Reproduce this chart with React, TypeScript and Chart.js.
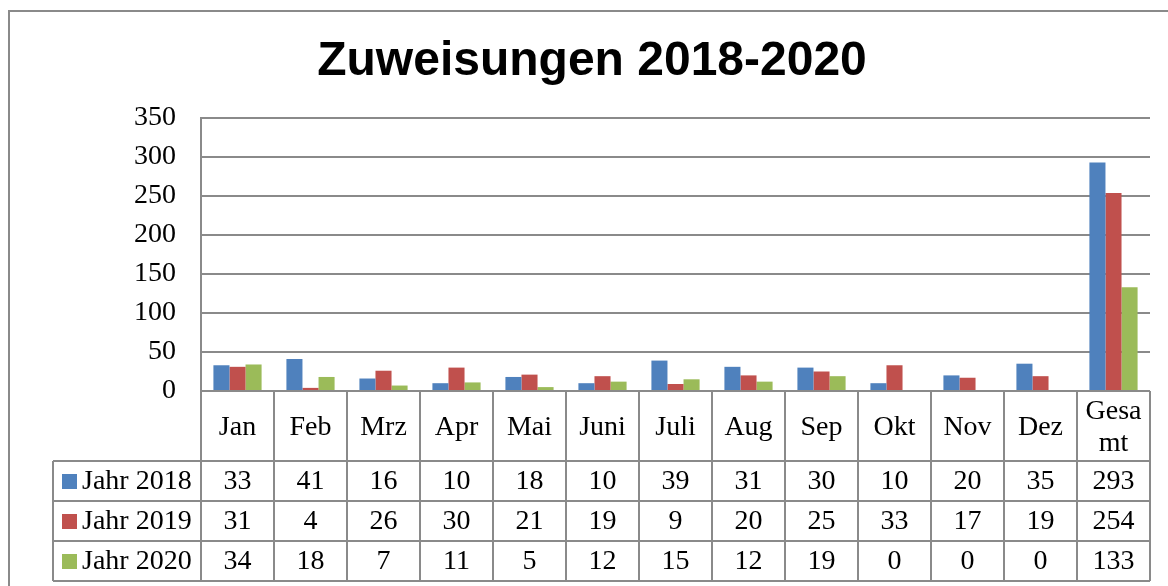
import React, { useEffect, useRef } from "react";
import { Chart, registerables } from "chart.js";

Chart.register(...registerables);

const categories: (string | string[])[] = ["Jan", "Feb", "Mrz", "Apr", "Mai", "Juni", "Juli", "Aug", "Sep", "Okt", "Nov", "Dez", ["Gesa", "mt"]];
const seriesNames = ["Jahr 2018", "Jahr 2019", "Jahr 2020"];
const jahr2018 = [33, 41, 16, 10, 18, 10, 39, 31, 30, 10, 20, 35, 293];
const jahr2019 = [31, 4, 26, 30, 21, 19, 9, 20, 25, 33, 17, 19, 254];
const jahr2020 = [34, 18, 7, 11, 5, 12, 15, 12, 19, 0, 0, 0, 133];
const seriesColors = ["#4F81BD", "#C0504D", "#9BBB59"];
const titleText = "Zuweisungen 2018-2020";

const GRID = "#8a8a8a";
const SERIF = "'Liberation Serif', 'Times New Roman', serif";

const tablePlugin = {
  id: "dataTable",
  beforeDraw(chart: any) {
    const ctx = chart.ctx;
    ctx.save();
    ctx.fillStyle = "#ffffff";
    ctx.fillRect(0, 0, chart.width, chart.height);
    ctx.strokeStyle = GRID;
    ctx.lineWidth = 2;
    ctx.beginPath();
    ctx.moveTo(9, chart.height + 5);
    ctx.lineTo(9, 11);
    ctx.lineTo(chart.width + 5, 11);
    ctx.stroke();
    ctx.fillStyle = "#000";
    ctx.font = "bold 48px 'Liberation Sans', Arial, sans-serif";
    ctx.textAlign = "center";
    ctx.textBaseline = "alphabetic";
    ctx.fillText(titleText, 592, 75);
    ctx.restore();
  },
  afterDraw(chart: any) {
    const ctx = chart.ctx;
    const x = chart.scales.x;
    const area = chart.chartArea;
    const n = categories.length;
    const cw = (area.right - area.left) / n;
    const top = area.bottom;
    const headerBottom = top + 70;
    const rowH = 40;
    const rowsBottom = headerBottom + rowH * seriesNames.length;
    const legendLeft = 53;
    ctx.save();
    ctx.strokeStyle = GRID;
    ctx.lineWidth = 2;
    ctx.beginPath();
    ctx.moveTo(area.left, top);
    ctx.lineTo(area.right, top);
    for (let r = 0; r <= seriesNames.length; r++) {
      const y = headerBottom + r * rowH;
      ctx.moveTo(legendLeft, y);
      ctx.lineTo(area.right, y);
    }
    for (let i = 0; i <= n; i++) {
      const center = x.getPixelForValue(Math.min(i, n - 1));
      const bx = i < n ? center - cw / 2 : center + cw / 2;
      ctx.moveTo(bx, top);
      ctx.lineTo(bx, rowsBottom);
    }
    ctx.moveTo(legendLeft, headerBottom);
    ctx.lineTo(legendLeft, rowsBottom);
    ctx.stroke();

    ctx.fillStyle = "#000";
    ctx.font = "28px " + SERIF;
    ctx.textAlign = "center";
    ctx.textBaseline = "middle";
    categories.forEach((c, i) => {
      const cx = x.getPixelForValue(i);
      const lines = Array.isArray(c) ? c : [c];
      const lh = 32;
      const mid = (top + headerBottom) / 2 + 2;
      lines.forEach((l, k) => {
        ctx.fillText(l, cx, mid + (k - (lines.length - 1) / 2) * lh);
      });
    });
    const allSeries = [jahr2018, jahr2019, jahr2020];
    allSeries.forEach((vals, r) => {
      const cy = headerBottom + r * rowH + rowH / 2 + 1;
      ctx.fillStyle = seriesColors[r];
      ctx.fillRect(62, cy - 8, 15, 15);
      ctx.fillStyle = "#000";
      ctx.textAlign = "left";
      ctx.fillText(seriesNames[r], 82, cy);
      ctx.textAlign = "center";
      vals.forEach((v, i) => {
        ctx.fillText(String(v), x.getPixelForValue(i), cy);
      });
    });
    ctx.restore();
  },
};

export default function App() {
  const ref = useRef<HTMLCanvasElement | null>(null);
  useEffect(() => {
    if (!ref.current) return;
    const chart = new Chart(ref.current, {
      type: "bar",
      data: {
        labels: categories as any,
        datasets: [jahr2018, jahr2019, jahr2020].map((d, i) => ({
          label: seriesNames[i],
          data: d,
          backgroundColor: seriesColors[i],
          borderWidth: 0,
          barPercentage: 1,
          categoryPercentage: 0.66,
        })),
      },
      options: {
        responsive: false,
        animation: false,
        layout: { padding: { left: 0, top: 118, right: 18, bottom: 195 } },
        plugins: {
          legend: { display: false },
          title: { display: false },
          tooltip: { enabled: false },
        },
        scales: {
          x: { display: false },
          y: {
            min: 0,
            max: 350,
            afterFit: (s: any) => {
              s.width = 201;
            },
            ticks: {
              stepSize: 50,
              padding: 25,
              color: "#000",
              font: { family: SERIF, size: 28 },
            },
            grid: { color: GRID, lineWidth: 2, drawTicks: false },
            border: { display: true, color: GRID, width: 2 },
          },
        },
      },
      plugins: [tablePlugin],
    });
    return () => chart.destroy();
  }, []);
  return (
    <div style={{ position: "fixed", left: 0, top: 0, width: 1168, height: 586, background: "#fff" }}>
      <canvas ref={ref} width={1168} height={586} />
    </div>
  );
}
